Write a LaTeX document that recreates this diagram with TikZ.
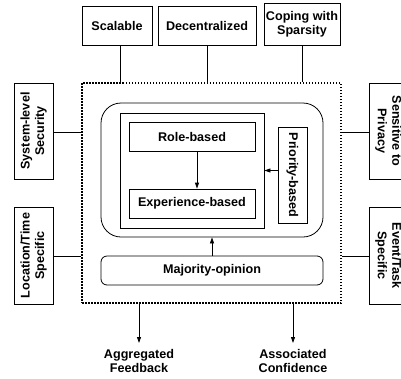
\documentclass[tikz,border=0pt]{standalone}
\usepackage{fontspec}
\setmainfont{Liberation Sans}
\usetikzlibrary{arrows.meta}
\begin{document}
\begin{tikzpicture}[x=1pt,y=-1pt,
  every node/.style={font=\bfseries\fontsize{12.6}{14.5}\selectfont},
  box/.style={draw, line width=0.8pt, inner sep=0pt, align=center},
  frame/.style={draw, line width=1.5pt, dash pattern=on 1.5pt off 1.5pt, inner sep=0pt},
  conn/.style={line width=0.8pt},
  arr/.style={line width=0.8pt, -{Triangle[length=6pt,width=4pt]}},
  lbl/.style={align=center, inner sep=0pt}]
\clip (0,0) rectangle (401,378);
\useasboundingbox (0,0) rectangle (401,378);
% top boxes
\node[box, minimum width=70pt, minimum height=39pt] (sc) at (117,25.5) {Scalable};
\node[box, minimum width=98pt, minimum height=39pt] (de) at (207,25.5) {Decentralized};
\node[box, minimum width=76pt, minimum height=42pt] (co) at (302,24) {Coping with\\Sparsity};
% dotted frame
\node[frame, minimum width=259pt, minimum height=220pt] (fr) at (211.5,193) {};
% side boxes
\node[box, rotate=90, minimum width=96pt, minimum height=39pt] (sys) at (33.5,131) {System-level\\Security};
\node[box, rotate=90, minimum width=97pt, minimum height=39pt] (loc) at (33.5,255.5) {Location/Time\\Specific};
\node[box, rotate=-90, minimum width=96pt, minimum height=39pt] (sen) at (388.5,131) {Sensitive to\\Privacy};
\node[box, rotate=-90, minimum width=97pt, minimum height=39pt] (evt) at (388.5,255.5) {Event/Task\\Specific};
% inner structure
\node[box, rounded corners=20pt, minimum width=222pt, minimum height=134pt] (rb) at (212,170) {};
\node[box, minimum width=144pt, minimum height=115pt] (in) at (192,170.5) {};
\node[box, minimum width=126pt, minimum height=29pt] (role) at (192,136.5) {Role-based};
\node[box, minimum width=126pt, minimum height=29pt] (exp) at (192,203.5) {Experience-based};
\node[box, rotate=-90, minimum width=96pt, minimum height=29pt] (prio) at (292.5,175) {Priority-based};
\node[box, rounded corners=6pt, minimum width=222pt, minimum height=29pt] (maj) at (212,270.5) {Majority-opinion};
% outputs
\node[lbl, anchor=north] (agg) at (139,349) {Aggregated\\Feedback};
\node[lbl, anchor=north] (ass) at (293,349) {Associated\\Confidence};
% connectors
\draw[conn] ([xshift=3pt]sc.south) -- ([xshift=3pt]sc.south |- fr.north);
\draw[conn] (de.south) -- (de.south |- fr.north);
\draw[conn] (co.south) -- (co.south |- fr.north);
\draw[conn] (sys.south |- 0,132) -- (fr.west |- 0,132);
\draw[conn] (loc.south |- 0,256) -- (fr.west |- 0,256);
\draw[conn] (sen.south |- 0,132) -- (fr.east |- 0,132);
\draw[conn] (evt.south |- 0,256) -- (fr.east |- 0,256);
\draw[arr] ([xshift=5pt]role.south) -- ([xshift=5pt]exp.north);
\draw[arr] (prio.south |- in.east) -- (in.east);
\draw[arr] (maj.north) -- (rb.south);
\draw[arr] (fr.south -| agg.north) -- ([yshift=6pt]agg.north);
\draw[arr] (fr.south -| ass.north) -- ([yshift=6pt]ass.north);
\end{tikzpicture}
\end{document}
